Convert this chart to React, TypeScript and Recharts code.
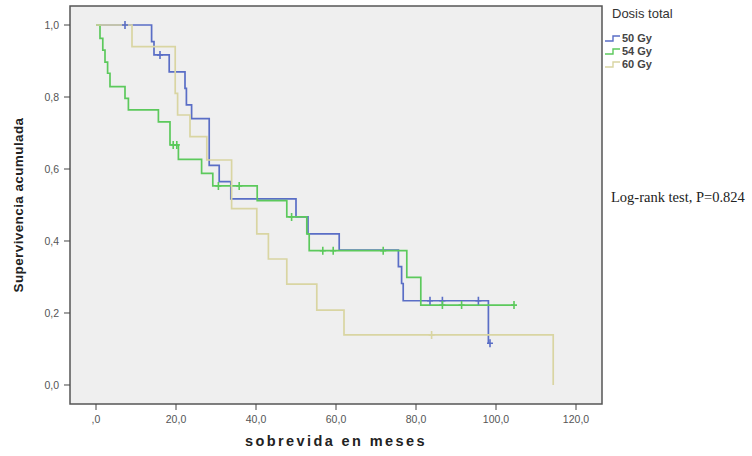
import {
  ComposedChart,
  Line,
  Scatter,
  XAxis,
  YAxis,
  CartesianGrid,
  ReferenceArea,
  Legend,
  Label,
} from 'recharts';

// Kaplan-Meier steps (months, cumulative survival)
const dose50Times = [0, 13.9, 14.5, 18.3, 22.25, 22.6, 23.9, 28.3, 30.8, 33.7, 50, 53, 60.8, 75.6, 76.4, 76.8, 98.1, 98.5];
const dose50Surv = [1, 0.954, 0.917, 0.87, 0.824, 0.778, 0.74, 0.61, 0.565, 0.517, 0.467, 0.42, 0.375, 0.329, 0.282, 0.234, 0.116, 0.116];
const dose50CensorTimes = [7.25, 16, 83.5, 86.6, 95.6, 98.5];
const dose50CensorSurv = [1, 0.917, 0.234, 0.234, 0.234, 0.116];

const dose54Times = [0, 1.0, 1.7, 2.25, 2.9, 3.5, 7.25, 8.1, 15.6, 18.5, 20.6, 26.4, 29.2, 40.3, 47.7, 52.7, 53.3, 77.7, 81.2, 104.5];
const dose54Surv = [1, 0.963, 0.93, 0.897, 0.866, 0.829, 0.796, 0.764, 0.731, 0.667, 0.627, 0.588, 0.553, 0.512, 0.467, 0.42, 0.373, 0.299, 0.222, 0.222];
const dose54CensorTimes = [19.3, 20.2, 30.6, 35.8, 48.9, 56.7, 59.3, 71.8, 86.6, 91.4, 104.5];
const dose54CensorSurv = [0.667, 0.667, 0.553, 0.553, 0.467, 0.373, 0.373, 0.373, 0.222, 0.222, 0.222];

const dose60Times = [0, 9, 19.8, 20.4, 23.5, 27.7, 33.9, 40.2, 43.1, 47.7, 55.2, 62, 114.3];
const dose60Surv = [1, 0.94, 0.81, 0.75, 0.69, 0.625, 0.49, 0.42, 0.35, 0.28, 0.208, 0.139, 0];
const dose60CensorTimes = [83.9];
const dose60CensorSurv = [0.139];

const xTicks = [0, 20, 40, 60, 80, 100, 120];
const yTicks = [0, 0.2, 0.4, 0.6, 0.8, 1.0];
const groupNames = ['50 Gy', '54 Gy', '60 Gy'];
const groupColors = ['#5a6ec6', '#5cc95c', '#d9d5a2'];

const X_DOMAIN: [number, number] = [-6.5, 126.5];
const Y_DOMAIN: [number, number] = [-0.0528, 1.0528];

const zip = (t: number[], s: number[]) => t.map((v, i) => ({ t: v, s: s[i] }));

const curves = [
  { steps: zip(dose50Times, dose50Surv), censored: zip(dose50CensorTimes, dose50CensorSurv) },
  { steps: zip(dose54Times, dose54Surv), censored: zip(dose54CensorTimes, dose54CensorSurv) },
  { steps: zip(dose60Times, dose60Surv), censored: zip(dose60CensorTimes, dose60CensorSurv) },
];

const fmtX = (v: number) => (v === 0 ? ',0' : v.toFixed(1).replace('.', ','));
const fmtY = (v: number) => v.toFixed(1).replace('.', ',');

const censorMark = (color: string) => (props: any) => {
  const { cx, cy } = props;
  return (
    <path
      d={`M${cx},${cy - 4}V${cy + 4}M${cx - 3},${cy}H${cx + 3}`}
      stroke={color}
      strokeWidth={1.6}
      fill="none"
    />
  );
};

function StepLegend() {
  return (
    <div style={{ fontFamily: '"Liberation Sans", Arial, sans-serif', color: '#333' }}>
      <div style={{ fontSize: 13, marginLeft: 7, lineHeight: '16px', marginTop: 6 }}>Dosis total</div>
      <div style={{ marginTop: 9 }}>
        {groupNames.map((name, i) => (
          <div key={name} style={{ display: 'flex', alignItems: 'center', height: 13 }}>
            <svg width={16} height={10}>
              <path d="M0,8H8V3H15" stroke={groupColors[i]} strokeWidth={1.4} fill="none" />
            </svg>
            <span style={{ fontSize: 11, fontWeight: 700, color: '#444', marginLeft: 1 }}>{name}</span>
          </div>
        ))}
      </div>
    </div>
  );
}

export default function App() {
  return (
    <div
      style={{
        position: 'absolute',
        left: 0,
        top: 0,
        width: 752,
        height: 456,
        background: '#fff',
        fontFamily: '"Liberation Sans", Arial, sans-serif',
      }}
    >
      <ComposedChart width={752} height={456} margin={{ top: 6, right: 150, left: 8, bottom: 0 }}>
        <CartesianGrid fill="#efefef" horizontal={false} vertical={false} />
        <XAxis
          dataKey="t"
          type="number"
          domain={X_DOMAIN}
          ticks={xTicks}
          allowDataOverflow
          height={52}
          axisLine={false}
          tickSize={6}
          tickMargin={6}
          tickLine={{ stroke: '#444' }}
          tick={{ fontSize: 10.5, fill: '#555' }}
          tickFormatter={fmtX}
        >
          <Label
            value="sobrevida en meses"
            position="insideBottom"
            offset={10}
            style={{ fontSize: 14.5, fontWeight: 700, fill: '#222', letterSpacing: 2.4 }}
          />
        </XAxis>
        <YAxis
          dataKey="s"
          type="number"
          domain={Y_DOMAIN}
          ticks={yTicks}
          allowDataOverflow
          width={62}
          axisLine={false}
          tickSize={6}
          tickMargin={5}
          tickLine={{ stroke: '#444' }}
          tick={{ fontSize: 10.5, fill: '#555' }}
          tickFormatter={fmtY}
        >
          <Label
            value="Supervivencia acumulada"
            angle={-90}
            position="insideLeft"
            offset={10}
            style={{ fontSize: 13.5, fontWeight: 700, fill: '#222', textAnchor: 'middle', letterSpacing: 0.4 }}
          />
        </YAxis>
        <ReferenceArea
          x1={X_DOMAIN[0]}
          x2={X_DOMAIN[1]}
          y1={Y_DOMAIN[0]}
          y2={Y_DOMAIN[1]}
          fill="none"
          stroke="#555"
          strokeWidth={1.5}
          ifOverflow="visible"
        />
        {curves.map((c, i) => (
          <Line
            key={`line-${groupNames[i]}`}
            name={groupNames[i]}
            data={c.steps}
            dataKey="s"
            type="stepAfter"
            stroke={groupColors[i]}
            strokeWidth={1.7}
            dot={false}
            activeDot={false}
            isAnimationActive={false}
          />
        ))}
        {curves.map((c, i) => (
          <Scatter
            key={`cens-${groupNames[i]}`}
            name={`${groupNames[i]} censurado`}
            data={c.censored}
            dataKey="s"
            shape={censorMark(groupColors[i])}
            isAnimationActive={false}
            legendType="none"
          />
        ))}
        <Legend
          layout="horizontal"
          verticalAlign="middle"
          align="center"
          content={() => <StepLegend />}
          wrapperStyle={{ position: 'absolute', left: 605, top: 0, width: 140 }}
        />
      </ComposedChart>
      <div
        style={{
          position: 'absolute',
          left: 611,
          top: 189,
          fontFamily: '"Liberation Serif", "Times New Roman", serif',
          fontSize: 14.5,
          color: '#222',
          whiteSpace: 'nowrap',
        }}
      >
        Log-rank test, P=0.824
      </div>
    </div>
  );
}
